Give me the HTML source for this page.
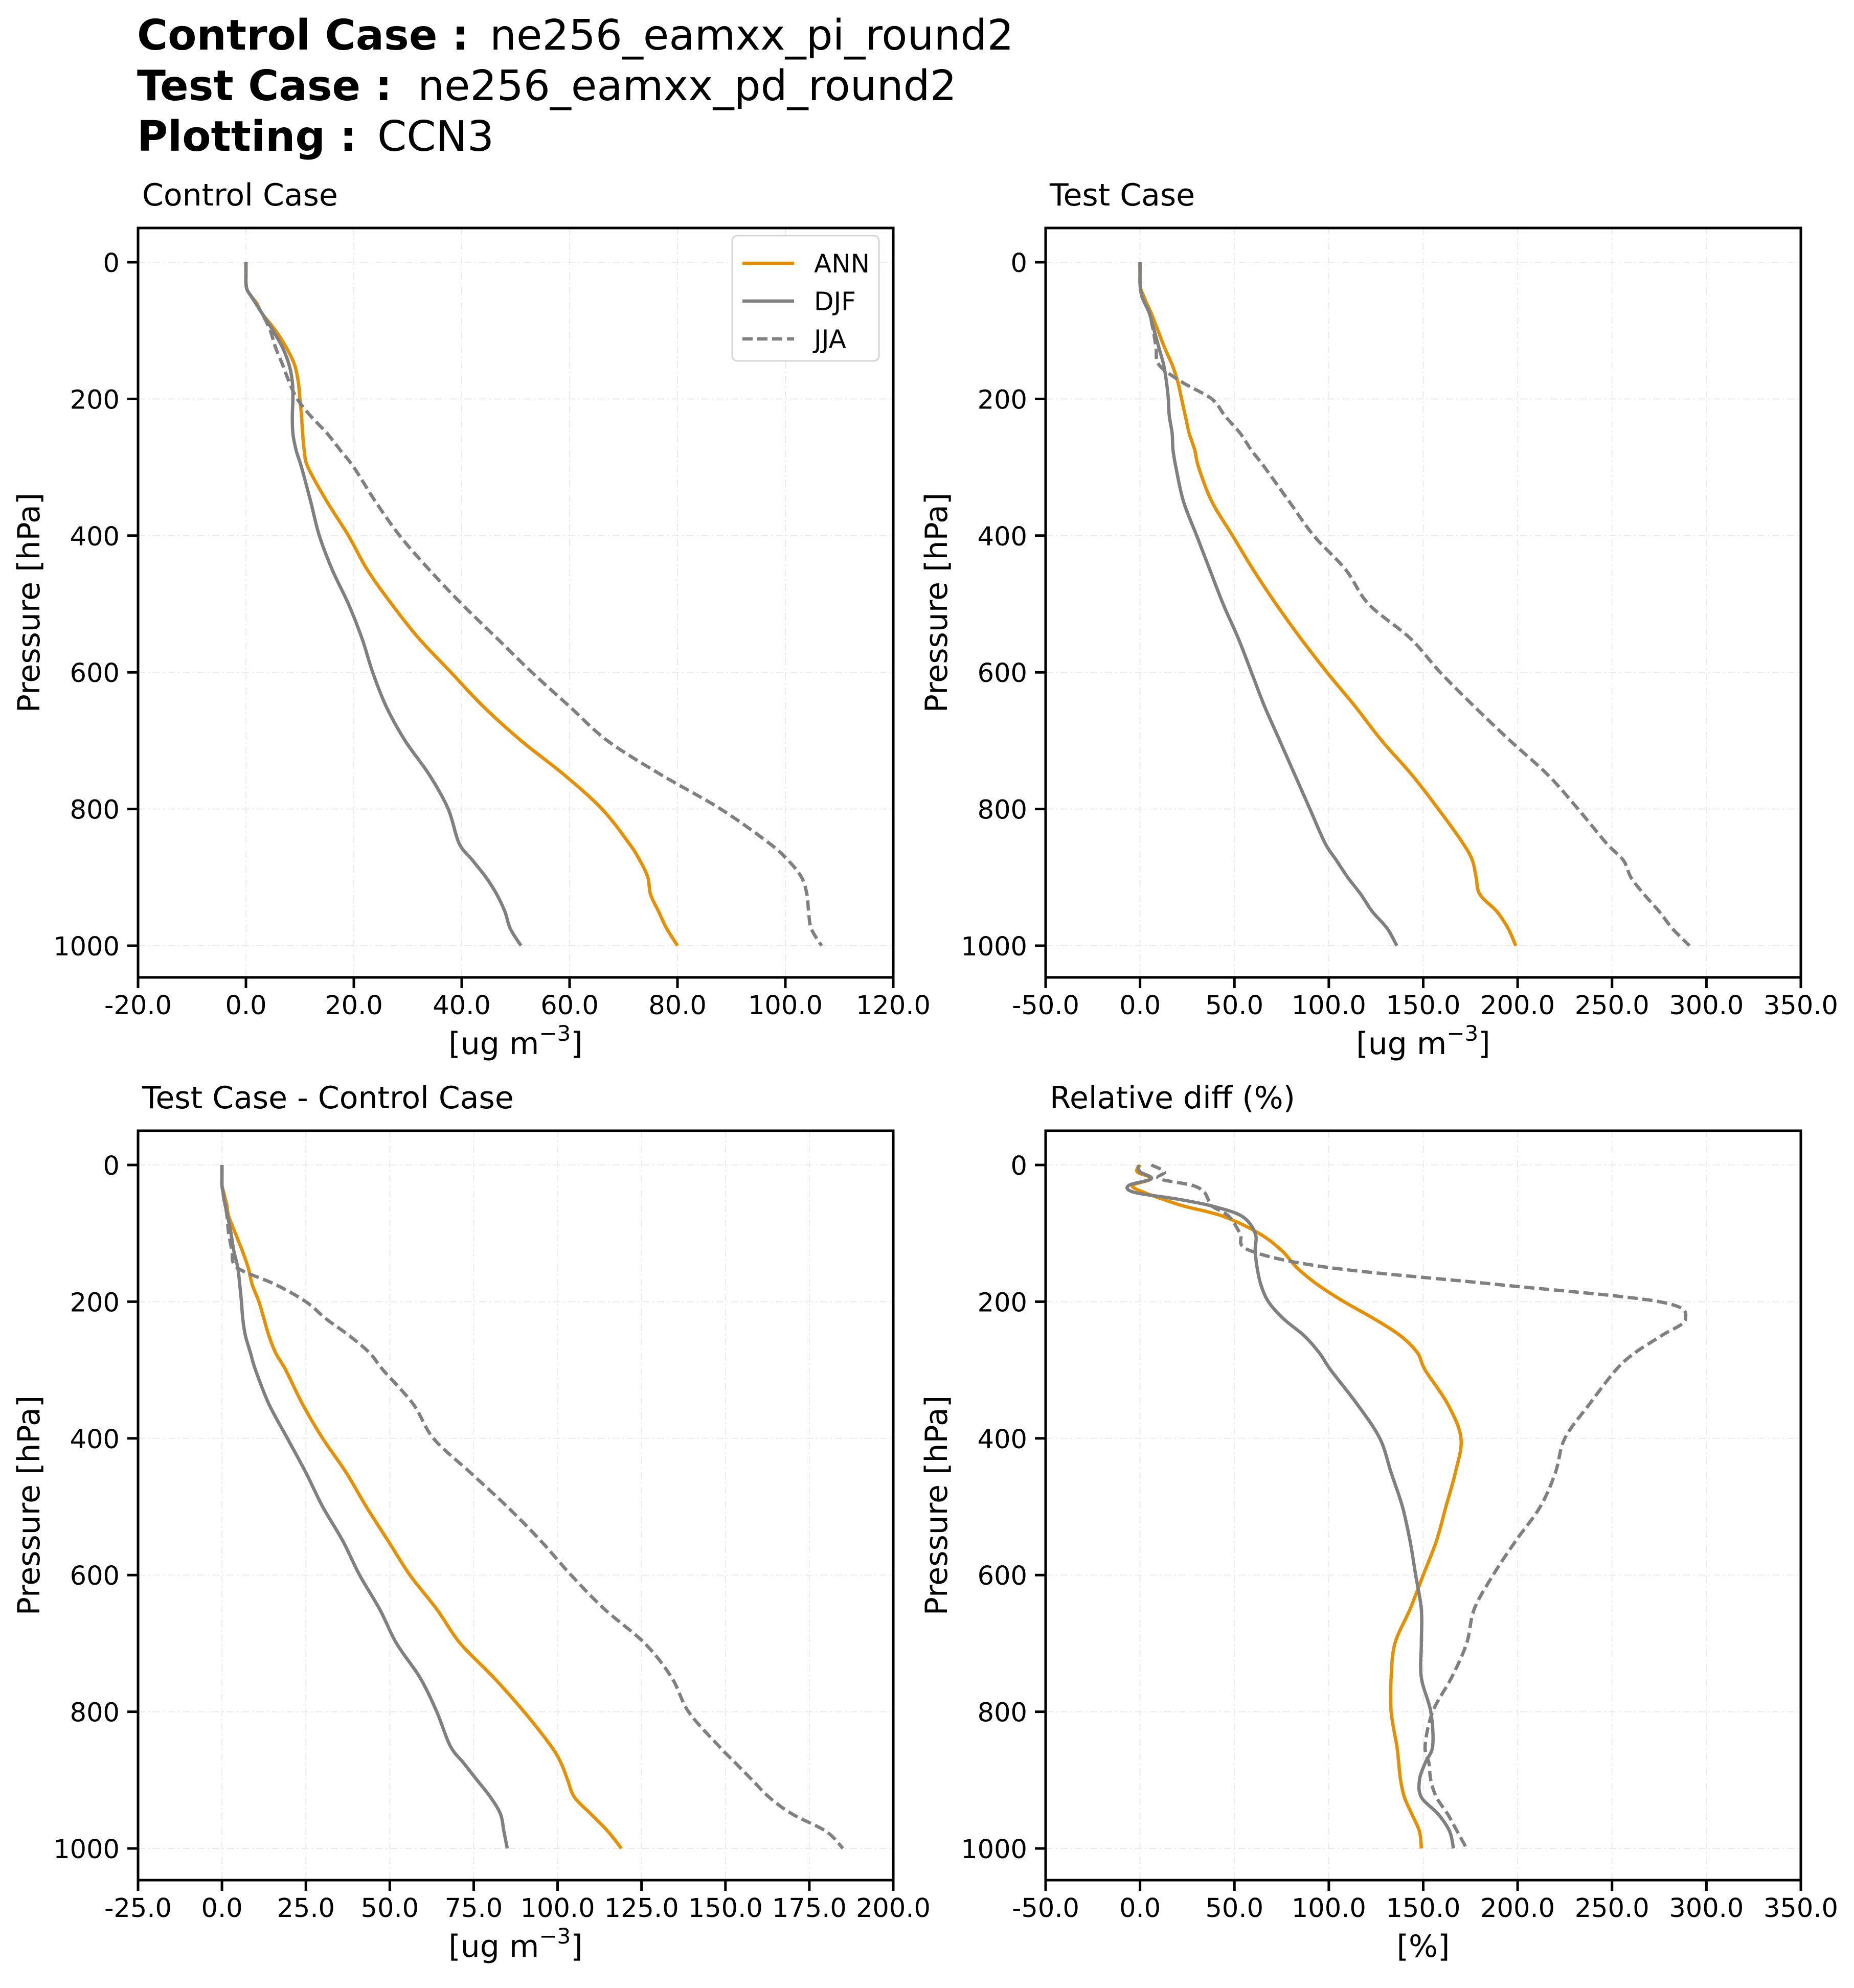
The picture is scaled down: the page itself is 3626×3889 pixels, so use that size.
<!DOCTYPE html>
<html><head><meta charset="utf-8"><style>
html,body{margin:0;padding:0;background:#fff;}
svg{display:block;font-family:"DejaVu Sans","Liberation Sans",sans-serif;}
</style></head><body>
<svg id="fig" width="3626" height="3889" viewBox="0 0 3626 3889" xmlns="http://www.w3.org/2000/svg">
<rect width="3626" height="3889" fill="#fff"/>
<g font-size="82">
<text x="268" y="97"><tspan font-weight="bold">Control Case :</tspan></text><text x="958" y="97">ne256_eamxx_pi_round2</text>
<text x="268" y="196"><tspan font-weight="bold">Test Case :</tspan></text><text x="817" y="196">ne256_eamxx_pd_round2</text>
<text x="268" y="295"><tspan font-weight="bold">Plotting :</tspan></text><text x="738" y="295">CCN3</text>
</g>
<g id="plots"></g>
</svg>
<script>
const pressure = [0,10,20,30,40,50,60,75,100,125,150,175,200,225,250,275,300,350,400,450,500,550,600,650,700,750,800,850,875,900,925,950,975,1000];
const seriesNames = ["ANN","DJF","JJA"];
// Control case
const ctlANN = [0,0,0,0,0.2,1,2,3,5.5,7.5,9,9.7,10,10.3,10.5,10.8,11.5,15,19,22.5,27,32,38,44,51,59,66,71,73,74.5,75,76.5,78,80];
const ctlDJF = [0,0,0,0,0.2,1,1.8,3,5,6.8,8,8.6,8.7,8.6,8.7,9.3,10.3,12,13.6,16,19,21.5,23.5,26,29.5,34,37.5,39.5,42,44.5,46.5,48,49,51];
const ctlJJA = [0,0,0,0,0.2,1,1.8,3,4.5,5.5,6.8,8,9.5,12,15,17.5,20,24,28.5,34,40,46.5,53,60,67,77,88,97,100.5,103,104,104.3,104.8,106.7];
// Test case
const tstANN = [0,0,0,0,0.5,2,3.5,6,9.5,13,17,20,22,24,26,29,31,38,49,60,72,85,99,114,128,144,158,171,176,178,180,189,195,199];
const tstDJF = [0,0,0,0,0.3,1,2.5,5,7.5,10,12.5,14,15,15.5,17,17.5,19,23,30,37,44,52,59,66,74,82,90,98,104,110,117,123,131,136];
const tstJJA = [0,0,0,0,0.3,1,2.5,5,7,8.5,10,22,38,45,53,59,66,79,92,109,121,143,159,177,196,216,232,247,256,260,267,275,282,291];
// Difference
const difANN = [0,0,0,0,0.5,1,1.5,2,4,6,7.8,9,11,12.5,14,16,19,24,30,37,43,49.5,56,64,71,81,90,98,101,103,105,110,115,119];
const difDJF = [0,0,0,0,0.3,0.6,1,1.7,2.7,3.5,4.7,5.3,5.8,6.2,7,8.5,10,14,19.5,25,30,36,41,47,52,59,64,68,72,76,80,83,84,85];
const difJJA = [0,0,0,0,0.3,0.6,1,1.5,2,3,4.5,16,25,31,38,44,48,57,63,74,85,95,104,114,126,134,139,148,153,158,163,170,180,185];
// Relative diff
const relANN = [0,-1.5,6,-4,2,12,23,44,63,75,83,94,108,124,138,147,151,163,170,167,162,157,150,143,135,133,133,136,137,138,140,144,148,149];
const relDJF = [-1,0,6,-6,-3,20,38,54,61,61,62,64,68,76,87,95,101,115,127,133,139,143,146,149,149,149,154,155,151,148,149,158,164,166];
const relJJA = [6,13,10,28,34,36,38,47,53,58,100,190,275,289,276,262,252,238,225,220,212,199,187,177,173,165,155,151,153,154,157,163,168,173];
const yTicks = [0,200,400,600,800,1000];
const xTicks1 = [-20,0,20,40,60,80,100,120];
const xTicks2 = [-50,0,50,100,150,200,250,300,350];
const xTicks3 = [-25,0,25,50,75,100,125,150,175,200];
const xTicks4 = [-50,0,50,100,150,200,250,300,350];

const NS="http://www.w3.org/2000/svg";
const root=document.getElementById('plots');
const colors=["#E69000","#808080","#808080"];
const dashes=[null,null,"20,9"];
function mk(tag,attrs,parent){const e=document.createElementNS(NS,tag);for(const k in attrs)e.setAttribute(k,attrs[k]);(parent||root).appendChild(e);return e;}
function smooth(pts){
  let d='M'+pts[0][0].toFixed(1)+','+pts[0][1].toFixed(1);
  for(let i=0;i<pts.length-1;i++){
    const p0=pts[Math.max(0,i-1)],p1=pts[i],p2=pts[i+1],p3=pts[Math.min(pts.length-1,i+2)];
    const c1=[p1[0]+(p2[0]-p0[0])/6,p1[1]+(p2[1]-p0[1])/6];
    const c2=[p2[0]-(p3[0]-p1[0])/6,p2[1]-(p3[1]-p1[1])/6];
    d+=' C'+c1[0].toFixed(1)+','+c1[1].toFixed(1)+' '+c2[0].toFixed(1)+','+c2[1].toFixed(1)+' '+p2[0].toFixed(1)+','+p2[1].toFixed(1);
  }
  return d;
}
function panel(o){
  const g=mk('g',{});
  
  
  const L=o.left,R=o.left+1477,y0=o.y0,y1000=o.y0+1337;
  const T=y0-67,B=y1000+62;
  const xs=v=>L+(v-o.xmin)/(o.xmax-o.xmin)*(R-L);
  const ys=p=>y0+p/1000*(y1000-y0);
  o.xticks.forEach(t=>{const l=mk('line',{x1:xs(t),x2:xs(t),y1:T,y2:B,stroke:'#ebebeb','stroke-width':2,'stroke-dasharray':'14,6,3,6'},g);
    
    });
  yTicks.forEach(t=>{const l=mk('line',{x1:L,x2:R,y1:ys(t),y2:ys(t),stroke:'#ebebeb','stroke-width':2,'stroke-dasharray':'14,6,3,6'},g);
    
    });
  o.series.forEach((vals,i)=>{
    const pts=vals.map((v,k)=>[xs(v),ys(pressure[k])]);
    const p=mk('path',{d:smooth(pts),fill:'none',stroke:colors[i],'stroke-width':6.5,'stroke-linejoin':'round'},g);
    if(dashes[i])p.setAttribute('stroke-dasharray',dashes[i]);
    
    
  });
  const f=mk('rect',{x:L,y:T,width:R-L,height:B-T,fill:'none',stroke:'#000','stroke-width':5},g);
  
  
  o.xticks.forEach(t=>{
    mk('line',{x1:xs(t),x2:xs(t),y1:B,y2:B+21,stroke:'#000','stroke-width':5},g);
    const tx=mk('text',{x:xs(t),y:B+72,'font-size':51,'text-anchor':'middle'},g);
    tx.textContent=t.toFixed(1);
    
    
  });
  yTicks.forEach(t=>{
    mk('line',{x1:L-21,x2:L,y1:ys(t),y2:ys(t),stroke:'#000','stroke-width':5},g);
    const tx=mk('text',{x:L-36,y:ys(t)+19,'font-size':51,'text-anchor':'end'},g);
    tx.textContent=t;
    
    
  });
  const ti=mk('text',{x:L+8,y:T-44,'font-size':60},g);
  ti.textContent=o.title;
  
  
  const yl=mk('text',{x:0,y:0,'font-size':60,'text-anchor':'middle',transform:`translate(${L-193},${(T+B)/2}) rotate(-90)`},g);
  yl.textContent='Pressure [hPa]';
  
  
  const xl=mk('text',{x:(L+R)/2,y:B+150,'font-size':60,'text-anchor':'middle'},g);
  if(o.xlabel==='%'){xl.textContent='[%]';}
  else{xl.appendChild(document.createTextNode('[ug m'));
    const s=mk('tspan',{'font-size':42,dy:-26},xl);s.textContent='−3';
    const s2=mk('tspan',{dy:26},xl);s2.textContent=']';}
  
  
  if(o.legend){
    const lg=mk('g',{},g);
    
    
    mk('rect',{x:1432,y:461,width:287,height:245,rx:10,fill:'#fff',stroke:'#d6d6d6','stroke-width':3},lg);
    seriesNames.forEach((n,i)=>{
      const yy=515+i*74;
      const ln=mk('line',{x1:1452,x2:1553,y1:yy,y2:yy,stroke:colors[i],'stroke-width':6.5},lg);
      if(dashes[i])ln.setAttribute('stroke-dasharray',dashes[i]);
      const t=mk('text',{x:1592,y:yy+18,'font-size':50},lg);
      t.textContent=n;
      
      
    });
  }
}
panel({name:'control-case-panel',left:270,y0:513,xmin:-20,xmax:120,xticks:xTicks1,series:[ctlANN,ctlDJF,ctlJJA],title:'Control Case',xlabel:'ug',legend:true});
panel({name:'test-case-panel',left:2045,y0:513,xmin:-50,xmax:350,xticks:xTicks2,series:[tstANN,tstDJF,tstJJA],title:'Test Case',xlabel:'ug'});
panel({name:'difference-panel',left:270,y0:2279,xmin:-25,xmax:200,xticks:xTicks3,series:[difANN,difDJF,difJJA],title:'Test Case - Control Case',xlabel:'ug'});
panel({name:'relative-diff-panel',left:2045,y0:2279,xmin:-50,xmax:350,xticks:xTicks4,series:[relANN,relDJF,relJJA],title:'Relative diff (%)',xlabel:'%'});
</script>
</body></html>
